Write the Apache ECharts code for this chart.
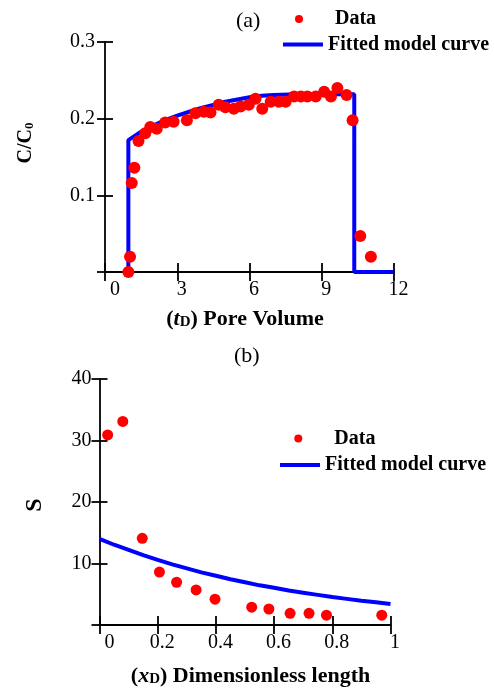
<!DOCTYPE html>
<html>
<head>
<meta charset="utf-8">
<title>Breakthrough curve and S profile</title>
<script src="https://cdn.jsdelivr.net/npm/echarts@6/dist/echarts.min.js"></script>
<style>
  html, body { margin: 0; padding: 0; background: #ffffff; }
  #chart { width: 494px; height: 694px; }
</style>
</head>
<body>
<div id="chart"></div>
<script>
// Panel (a): measured effluent concentration vs pore volume, with fitted model curve
const poreVolume = [0.97, 1.04, 1.11, 1.22, 1.39, 1.67, 1.88, 2.15, 2.5, 2.85, 3.4, 3.75, 4.1, 4.38, 4.72, 5.0, 5.35, 5.63, 5.97, 6.25, 6.53, 6.88, 7.22, 7.5, 7.85, 8.13, 8.4, 8.75, 9.1, 9.38, 9.65, 10.03, 10.28, 10.6, 11.04];
const concRatio = [0, 0.02, 0.116, 0.136, 0.171, 0.181, 0.189, 0.187, 0.195, 0.196, 0.198, 0.207, 0.209, 0.208, 0.218, 0.215, 0.213, 0.216, 0.218, 0.226, 0.213, 0.222, 0.222, 0.222, 0.229, 0.229, 0.229, 0.229, 0.235, 0.229, 0.240, 0.231, 0.198, 0.047, 0.02];
const fitPoreVolume = [0.97, 0.97, 1.5, 2, 2.5, 3, 3.5, 4, 4.5, 5, 5.5, 6, 6.5, 7, 8, 9, 10.35, 10.35, 12];
const fitConcRatio = [0, 0.172, 0.183, 0.191, 0.198, 0.204, 0.209, 0.214, 0.218, 0.222, 0.225, 0.228, 0.230, 0.231, 0.232, 0.232, 0.232, 0, 0];

// Panel (b): S along the dimensionless length, with fitted model curve
const dimLength = [0.028, 0.08, 0.147, 0.206, 0.265, 0.332, 0.397, 0.523, 0.582, 0.655, 0.72, 0.78, 0.97];
const sValues = [30.9, 33.1, 14.1, 8.6, 6.95, 5.7, 4.2, 2.9, 2.6, 1.9, 1.9, 1.6, 1.6];
const fitDimLength = [0, 0.05, 0.1, 0.15, 0.2, 0.25, 0.3, 0.35, 0.4, 0.45, 0.5, 0.55, 0.6, 0.65, 0.7, 0.75, 0.8, 0.85, 0.9, 0.95, 1.0];
const fitS = [14.0, 13.05, 12.2, 11.35, 10.6, 9.85, 9.2, 8.55, 8.0, 7.45, 6.95, 6.45, 6.05, 5.6, 5.25, 4.9, 4.55, 4.25, 3.95, 3.7, 3.4];

// Axis ticks and labels
const xTicksA = { min: 0, max: 12, interval: 3 };
const yTicksA = { min: 0, max: 0.3, interval: 0.1 };
const xTicksB = { min: 0, max: 1, interval: 0.2 };
const yTicksB = { min: 0, max: 40, interval: 10 };

const legendNames = { data: 'Data', fit: 'Fitted model curve' };
const panelTitles = ['(a)', '(b)'];

const SERIF = '"Liberation Serif", "Times New Roman", serif';
const BLACK = '#000000';
const RED = '#ff0000';
const BLUE = '#0000ff';
const AXIS_W = 1.8;

function zip(xs, ys) { return xs.map((x, i) => [x, ys[i]]); }

const axisLineStyle = { show: true, lineStyle: { color: BLACK, width: AXIS_W } };
const tickLine = { color: BLACK, width: AXIS_W };

function mainX(ticks, gridIndex, name, nameGap, namePad, fmt) {
  return {
    type: 'value', gridIndex, position: 'bottom', ...ticks,
    splitLine: { show: false },
    axisLine: { ...axisLineStyle, onZero: false },
    axisTick: { show: true, inside: false, length: 9, lineStyle: tickLine },
    axisLabel: {
      color: BLACK, fontFamily: SERIF, fontSize: 20, margin: 8,
      padding: [0, 0, 0, 9],
      formatter: fmt,
      rich: { z: { fontFamily: SERIF, fontSize: 20, color: BLACK, padding: [0, 0, 0, 11] } }
    },
    name, nameLocation: 'middle', nameGap,
    nameTextStyle: {
      padding: namePad,
      rich: {
        n: { fontFamily: SERIF, fontSize: 22, fontWeight: 'bold', color: BLACK, lineHeight: 22 },
        i: { fontFamily: SERIF, fontSize: 22, fontWeight: 'bold', fontStyle: 'italic', color: BLACK, lineHeight: 22 },
        s: { fontFamily: SERIF, fontSize: 15, fontWeight: 'bold', color: BLACK, lineHeight: 10, verticalAlign: 'bottom' }
      }
    }
  };
}

// Second x axis on the same grid: draws only the tick halves that point into the plot
function innerX(ticks, gridIndex) {
  return {
    type: 'value', gridIndex, position: 'bottom', offset: 0, ...ticks,
    splitLine: { show: false },
    axisLine: { show: false, onZero: false },
    axisTick: { show: true, inside: true, length: 9, lineStyle: tickLine },
    axisLabel: { show: false }
  };
}

function mainY(ticks, gridIndex, name, nameGap, namePad, fmt, labelMargin, mainSize, subSize) {
  return {
    type: 'value', gridIndex, position: 'left', ...ticks,
    splitLine: { show: false },
    axisLine: { ...axisLineStyle, onZero: false },
    axisTick: { show: true, inside: false, length: 8, lineStyle: tickLine },
    axisLabel: {
      color: BLACK, fontFamily: SERIF, fontSize: 20, margin: labelMargin,
      padding: [8, 0, 0, 0], formatter: fmt
    },
    name, nameLocation: 'middle', nameGap,
    nameTextStyle: {
      padding: namePad,
      rich: {
        n: { fontFamily: SERIF, fontSize: mainSize, fontWeight: 'bold', color: BLACK, lineHeight: mainSize },
        s: { fontFamily: SERIF, fontSize: subSize, fontWeight: 'bold', color: BLACK, lineHeight: 8, verticalAlign: 'bottom' }
      }
    }
  };
}

// Second y axis on the same grid: inward tick halves only
function innerY(ticks, gridIndex) {
  return {
    type: 'value', gridIndex, position: 'left', offset: 0, ...ticks,
    splitLine: { show: false },
    axisLine: { show: false, onZero: false },
    axisTick: { show: true, inside: true, length: 8, lineStyle: tickLine },
    axisLabel: { show: false }
  };
}

const xFmtA = v => (v === 0 ? '{z|0}' : String(v));
const xFmtB = v => (v === 0 ? '{z|0}' : (v === 1 ? '1' : v.toFixed(1)));
const yFmtA = v => (v === 0 ? '' : v.toFixed(1));
const yFmtB = v => (v === 0 ? '' : String(v));

const legendText = (padLeft, padBottom) => ({
  fontFamily: SERIF, fontSize: 20, fontWeight: 'bold', color: BLACK,
  lineHeight: 20, padding: [0, 0, padBottom, padLeft]
});

function dotLegend(left, top, series) {
  return {
    left, top, padding: 0, orient: 'vertical', selectedMode: false,
    data: [{ name: series, icon: 'circle' }],
    itemWidth: 8, itemHeight: 8,
    textStyle: legendText(27, 7)
  };
}
function lineLegend(left, top, series) {
  return {
    left, top, padding: 0, orient: 'vertical', selectedMode: false,
    data: [{ name: series, icon: 'rect' }],
    itemWidth: 40, itemHeight: 4,
    textStyle: legendText(0, 12)
  };
}

const chart = echarts.init(document.getElementById('chart'), null, { renderer: 'canvas' });

chart.setOption({
  animation: false,
  backgroundColor: '#ffffff',
  grid: [
    { left: 105, right: 100, top: 42, bottom: 422, outerBoundsMode: 'none' },
    { left: 99.5, right: 103.5, top: 379, bottom: 69, outerBoundsMode: 'none' }
  ],
  graphic: [
    { type: 'text', left: 236, top: 10, style: { text: panelTitles[0], font: '22px ' + SERIF, fill: BLACK } },
    { type: 'text', left: 234, top: 345, style: { text: panelTitles[1], font: '22px ' + SERIF, fill: BLACK } }
  ],
  legend: [
    dotLegend(295, 5.5, legendNames.data + ' '),
    lineLegend(283, 28.5, legendNames.fit + ' '),
    dotLegend(294.3, 425, legendNames.data),
    lineLegend(280, 449, legendNames.fit)
  ],
  xAxis: [
    mainX(xTicksA, 0, '{n|(}{i|t}{s|D}{n|) Pore Volume}', 36, [0, 9, 0, 0], xFmtA),
    mainX(xTicksB, 1, '{n|(}{i|x}{s|D}{n|) Dimensionless length}', 40, [0, 0, 0, 11], xFmtB),
    innerX(xTicksA, 0),
    innerX(xTicksB, 1)
  ],
  yAxis: [
    mainY(yTicksA, 0, '{n|C/C}{s|0}', 69, [0, 0, 0, 28], yFmtA, 10, 20, 13),
    mainY(yTicksB, 1, '{n|S}', 53, [0, 6, 0, 0], yFmtB, 8, 24, 14),
    innerY(yTicksA, 0),
    innerY(yTicksB, 1)
  ],
  series: [
    {
      name: legendNames.fit + ' ', type: 'line', xAxisIndex: 0, yAxisIndex: 0,
      data: zip(fitPoreVolume, fitConcRatio), showSymbol: false, symbol: 'none',
      color: BLUE, lineStyle: { color: BLUE, width: 4 }, itemStyle: { color: BLUE }, z: 2
    },
    {
      name: legendNames.data + ' ', type: 'scatter', xAxisIndex: 0, yAxisIndex: 0,
      data: zip(poreVolume, concRatio), symbolSize: 12,
      itemStyle: { color: RED, opacity: 1 }, z: 3
    },
    {
      name: legendNames.fit, type: 'line', xAxisIndex: 1, yAxisIndex: 1,
      data: zip(fitDimLength, fitS), showSymbol: false, symbol: 'none',
      color: BLUE, lineStyle: { color: BLUE, width: 4 }, itemStyle: { color: BLUE }, z: 2
    },
    {
      name: legendNames.data, type: 'scatter', xAxisIndex: 1, yAxisIndex: 1,
      data: zip(dimLength, sValues), symbolSize: 11,
      itemStyle: { color: RED, opacity: 1 }, z: 3
    }
  ]
});
</script>
</body>
</html>
